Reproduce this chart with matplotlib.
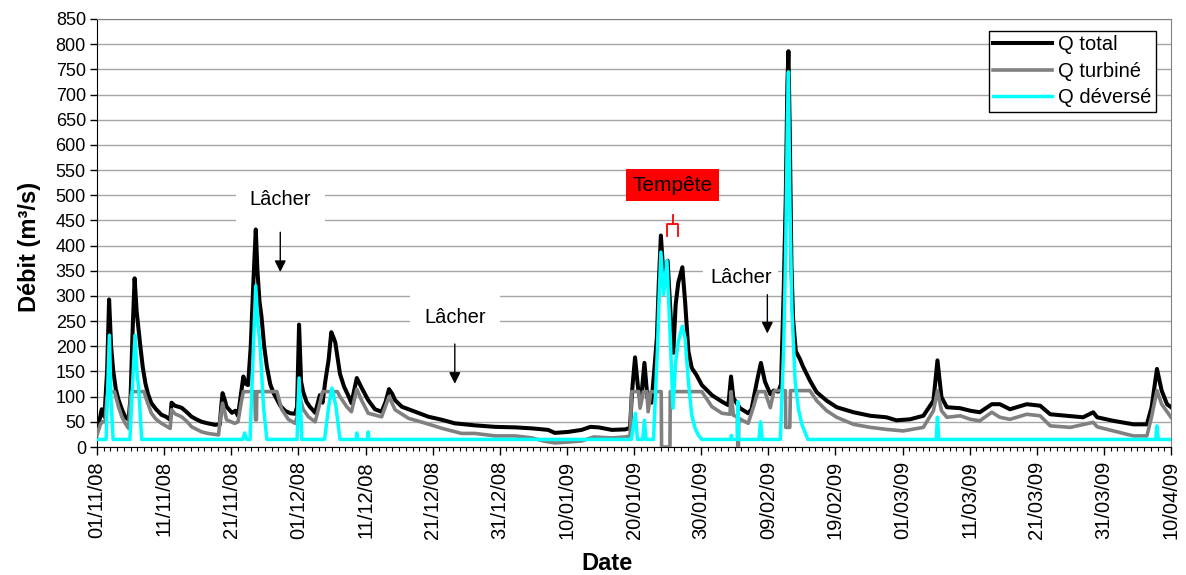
import numpy as np
import pandas as pd
import matplotlib
matplotlib.use('Agg')
import matplotlib.pyplot as plt
import matplotlib.dates as mdates

plt.rcParams['font.family'] = ['Liberation Sans', 'DejaVu Sans']

debut = pd.Timestamp('2008-11-01')
fin = pd.Timestamp('2009-04-10')

# debits (m3/s), jours comptes depuis le 01/11/08
jours_total = [0.0, 0.4, 0.7, 1.1, 1.5, 1.8, 2.1, 2.4, 2.8, 3.2, 3.7, 4.2, 4.7, 5.0, 5.3, 5.6,
               5.9, 6.4, 6.8, 7.2, 7.6, 8.1, 8.8, 9.6, 10.3, 10.9, 11.1, 11.6, 12.6, 13.3, 14.1,
               14.8, 15.6, 16.5, 17.6, 18.3, 18.5, 18.7, 19.0, 19.3, 20.1, 20.6, 21.0, 21.5, 21.8,
               22.2, 22.5, 22.9, 23.3, 23.65, 23.9, 24.2, 24.5, 24.9, 25.3, 25.8, 26.3, 27.3, 28.0,
               28.8, 29.5, 29.8, 30.1, 30.4, 30.7, 31.2, 31.7, 32.5, 33.2, 33.6, 34.0, 34.5, 34.9,
               35.3, 35.5, 36.2, 36.8, 37.5, 37.9, 38.7, 39.4, 40.4, 41.4, 42.4, 43.0, 43.5, 44.0,
               44.4, 45.4, 47.4, 49.4, 51.4, 53.3, 56.3, 59.3, 62.3, 64.8, 67.2, 68.2, 70.2, 72.2,
               73.5, 74.7, 76.7, 78.7, 79.4, 79.7, 80.15, 80.6, 81.0, 81.3, 81.55, 82.0, 82.6, 83.0,
               83.4, 83.7, 84.0, 84.5, 85.0, 85.5, 85.85, 86.2, 86.6, 87.2, 87.6, 88.1, 88.6, 89.3,
               90.1, 91.6, 93.1, 94.05, 94.45, 94.8, 95.8, 97.0, 97.5, 98.3, 98.9, 99.5, 100.3,
               100.8, 101.5, 101.9, 102.3, 102.6, 102.85, 103.0, 103.2, 103.45, 103.7, 104.1, 104.7,
               105.2, 106.2, 107.2, 108.7, 110.2, 112.7, 115.2, 117.6, 119.1, 121.1, 123.1, 124.6,
               125.2, 125.8, 126.6, 128.6, 130.1, 131.5, 133.3, 134.5, 136.0, 138.5, 140.5, 142.0,
               144.5, 146.9, 148.4, 149.0, 151.4, 154.4, 156.4, 157.1, 157.9, 158.6, 159.4, 160.0]
q_total = [35, 55, 75, 60, 150, 293, 200, 153, 115, 94, 75, 60, 54, 100, 230, 335,
           270, 207, 160, 127, 105, 87, 75, 64, 60, 54, 88, 82, 78, 70, 60,
           55, 50, 47, 44, 45, 80, 107, 95, 80, 68, 72, 62, 110, 140,
           125, 123, 200, 330, 432, 350, 290, 259, 200, 160, 125, 107, 82, 72,
           67, 66, 80, 243, 130, 110, 90, 80, 68, 103, 88, 130, 173, 228,
           215, 207, 145, 120, 100, 87, 137, 118, 93, 75, 70, 90, 115, 105,
           93, 80, 70, 60, 54, 47, 43, 40, 39, 37, 34, 28, 30, 34,
           40, 39, 34, 35, 38, 110, 178, 117, 88, 130, 167, 97, 88, 150,
           217, 330, 420, 317, 370, 250, 187, 283, 327, 357, 290, 190, 157, 143,
           123, 103, 90, 83, 140, 97, 77, 67, 75, 130, 167, 130, 105,
           112, 110, 125, 313, 492, 724, 786, 625, 359, 253, 190, 175,
           159, 132, 109, 92, 79, 69, 62, 59, 53, 55, 62, 92,
           172, 99, 79, 77, 72, 69, 85, 85, 75, 85, 82, 65,
           62, 59, 69, 59, 52, 45, 45, 79, 155, 112, 85, 79]

jours_turbine = [0.0, 0.5, 0.8, 1.2, 1.5, 1.7, 2.6, 3.2, 3.7, 4.2, 4.7, 5.0, 5.2, 7.0, 7.4,
                 8.1, 8.8, 9.6, 10.9, 11.1, 11.6, 12.6, 13.3, 14.1, 15.6, 16.5, 18.1, 18.4, 18.7,
                 19.3, 20.5, 21.0, 21.5, 21.8, 23.5, 23.6, 23.75, 23.8, 26.8, 27.5, 28.5, 29.5, 29.8,
                 30.1, 30.4, 30.7, 31.5, 32.5, 33.2, 33.6, 35.8, 36.2, 37.2, 37.9, 38.7, 39.4, 40.4,
                 42.4, 43.5, 44.4, 46.4, 49.0, 51.4, 54.3, 56.3, 59.3, 62.3, 64.8, 66.5, 68.2, 70.2,
                 72.2, 74.0, 76.7, 78.7, 79.4, 79.65, 80.7, 80.9, 81.4, 81.9, 82.1, 82.5, 84.05, 84.1,
                 85.35, 85.4, 90.1, 91.6, 93.1, 94.3, 94.45, 94.8, 95.4, 95.45, 95.55, 95.6, 97.0,
                 97.8, 98.3, 98.5, 99.5, 100.0, 100.3, 100.8, 101.0, 102.55, 102.6, 103.2, 103.3,
                 106.2, 107.2, 108.7, 110.2, 112.7, 115.2, 117.6, 120.1, 123.1, 124.6, 125.2, 125.8,
                 126.6, 128.6, 130.1, 131.5, 133.3, 134.5, 136.0, 138.5, 140.5, 142.0, 145.0, 148.4,
                 149.0, 151.4, 154.4, 156.4, 157.1, 157.9, 158.6, 160.0]
q_turbine = [24, 45, 50, 50, 100, 110, 110, 80, 60, 47, 37, 100, 110, 110, 93,
             67, 55, 47, 37, 74, 66, 60, 52, 40, 30, 27, 24, 60, 87,
             54, 47, 50, 90, 110, 110, 54, 54, 110, 110, 75, 55, 47, 60,
             106, 90, 75, 60, 50, 87, 110, 110, 100, 80, 70, 115, 93, 67,
             60, 100, 74, 57, 47, 37, 27, 27, 22, 22, 18, 12, 8, 10,
             12, 20, 18, 20, 22, 110, 110, 77, 110, 110, 70, 110, 110, 0,
             0, 110, 110, 80, 67, 65, 110, 63, 60, 0, 0, 57, 47,
             80, 103, 110, 110, 90, 78, 109, 112, 112, 39, 39, 112,
             112, 92, 72, 59, 45, 39, 35, 32, 39, 72, 112, 72,
             59, 62, 55, 52, 69, 59, 55, 65, 62, 42, 39, 49,
             40, 32, 22, 22, 60, 112, 85, 59]

jours_deverse = [0.0, 1.35, 1.84, 2.1, 2.4, 4.9, 5.66, 6.0, 6.2, 6.65, 21.7, 22.0, 22.3, 22.8,
                 23.3, 23.64, 24.0, 24.3, 24.8, 25.3, 29.8, 30.1, 30.45, 30.5, 33.9, 34.5, 35.0,
                 35.6, 36.2, 38.6, 38.7, 38.8, 40.3, 40.4, 40.5, 79.6, 80.2, 80.5, 81.3, 81.55,
                 81.8, 82.9, 83.5, 83.7, 84.0, 84.4, 84.9, 85.4, 85.8, 86.2, 86.6, 87.2, 87.6,
                 88.1, 88.6, 89.1, 89.6, 90.1, 94.4, 94.5, 94.6, 95.4, 95.45, 95.55, 98.6, 98.85,
                 99.1, 101.8, 102.3, 102.6, 102.85, 103.0, 103.2, 103.5, 104.0, 104.5, 105.0, 105.9,
                 125.0, 125.2, 125.4, 157.7, 157.9, 158.1, 160.0]
q_deverse = [15, 15, 222, 90, 15, 15, 222, 140, 120, 15, 15, 28, 15, 15,
             200, 320, 240, 200, 80, 15, 15, 137, 40, 15, 15, 80, 117,
             80, 15, 15, 28, 15, 15, 30, 15, 15, 67, 15, 15, 53,
             15, 15, 200, 283, 387, 303, 370, 217, 77, 170, 210, 240, 217,
             130, 63, 37, 23, 15, 15, 23, 15, 15, 90, 15, 15, 50,
             15, 15, 200, 400, 650, 745, 500, 280, 130, 75, 45, 15,
             15, 59, 15, 15, 42, 15, 15]


def en_dates(jours):
    return debut + pd.to_timedelta(np.array(jours), unit='D')


def jour(j):
    return debut + pd.Timedelta(days=j)


fig = plt.figure(figsize=(11.86, 5.75), dpi=100)
ax = fig.add_axes([0.0818, 0.2226, 0.9056, 0.7444])

ax.plot(en_dates(jours_total), q_total, color='black', lw=2.9, label='Q total', zorder=3)
ax.plot(en_dates(jours_turbine), q_turbine, color='#808080', lw=2.6, label='Q turbiné', zorder=4)
ax.plot(en_dates(jours_deverse), q_deverse, color='#00ffff', lw=2.5, label='Q déversé', zorder=5)

ax.set_xlim(debut, fin)
ax.set_ylim(0, 850)
ax.set_yticks(np.arange(0, 851, 50))
ax.yaxis.grid(True, color='#a6a6a6', lw=1)
ax.set_axisbelow(True)

ax.set_xticks(pd.date_range(debut, fin, freq='10D'))
ax.set_xticks(pd.date_range(debut, fin, freq='D'), minor=True)
ax.xaxis.set_major_formatter(mdates.DateFormatter('%d/%m/%y'))
ax.tick_params(axis='x', which='major', direction='out', length=6, width=1, labelsize=14.5,
               rotation=90, pad=4)
ax.tick_params(axis='x', which='minor', direction='out', length=3, width=0.8)
ax.tick_params(axis='y', direction='out', length=5, width=1, labelsize=13, pad=3)

for cote in ['top', 'right']:
    ax.spines[cote].set_color('#808080')
for cote in ['left', 'bottom']:
    ax.spines[cote].set_color('black')

ax.set_ylabel('Débit (m³/s)', fontsize=17, fontweight='bold')
ax.yaxis.set_label_coords(-0.052, 0.467)
ax.set_xlabel('Date', fontsize=17, fontweight='bold')
ax.xaxis.set_label_coords(0.475, -0.245)
ax.xaxis.label.set_va('top')

leg = ax.legend(loc='upper right', bbox_to_anchor=(0.9857, 0.9727), borderaxespad=0,
                fancybox=False, edgecolor='black', fontsize=14.5, handlelength=2.9,
                handletextpad=0.3, labelspacing=0.38, borderpad=0.22, framealpha=1)
leg.get_frame().set_linewidth(1)

# annotations "Lâcher" avec fleches
fleche = dict(arrowstyle='-|>', color='black', lw=1, mutation_scale=17)
ax.text(jour(27.3), 491, 'Lâcher', fontsize=14.5, ha='center', va='center',
        bbox=dict(facecolor='white', edgecolor='none', pad=10), zorder=6)
ax.annotate('', xy=(jour(27.3), 342), xytext=(jour(27.3), 432), arrowprops=fleche, zorder=6)
ax.text(jour(53.3), 257, 'Lâcher', fontsize=14.5, ha='center', va='center',
        bbox=dict(facecolor='white', edgecolor='none', pad=10), zorder=6)
ax.annotate('', xy=(jour(53.3), 120), xytext=(jour(53.3), 210), arrowprops=fleche, zorder=6)
ax.text(jour(95.9), 336, 'Lâcher', fontsize=14.5, ha='center', va='center',
        bbox=dict(facecolor='white', edgecolor='none', pad=5), zorder=6)
ax.annotate('', xy=(jour(99.86), 220), xytext=(jour(99.86), 308), arrowprops=fleche, zorder=6)

# tempete
ax.text(jour(85.7), 520, 'Tempête', fontsize=15, ha='center', va='center',
        bbox=dict(facecolor='#ff0000', edgecolor='none', pad=4.5), zorder=6)
ax.plot([jour(84.9), jour(84.9), jour(86.6), jour(86.6)], [420, 442, 442, 420],
        color='#ff0000', lw=1.3, zorder=6)
ax.plot([jour(85.75), jour(85.75)], [442, 460], color='#ff0000', lw=1.3, zorder=6)

fig.savefig('out.png', dpi=100)
